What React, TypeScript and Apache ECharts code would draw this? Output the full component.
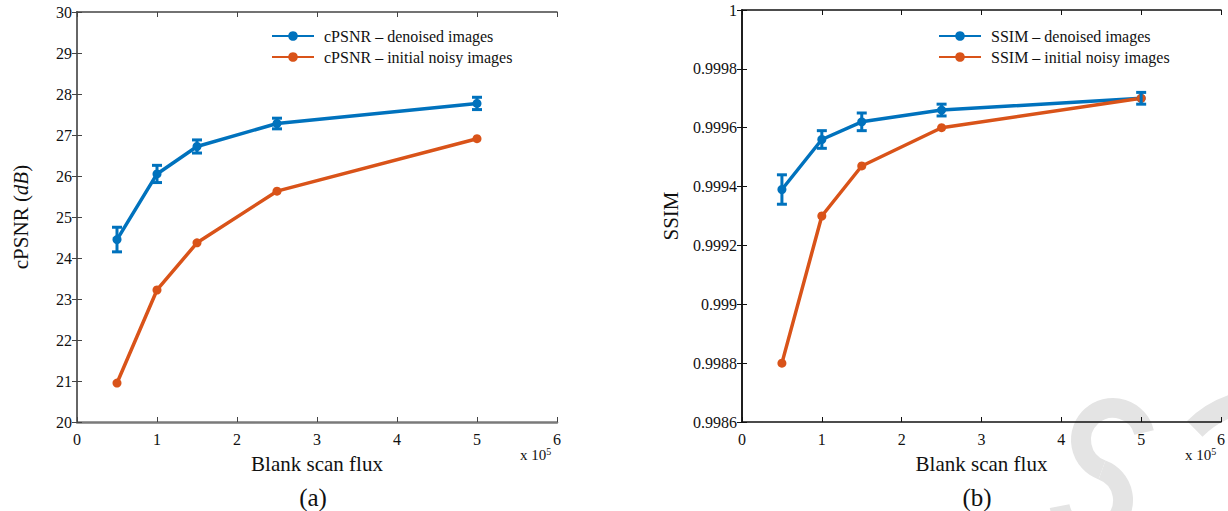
import React, { useEffect, useRef } from "react";
import * as echarts from "echarts";

// Blank scan flux (x 10^5)
const flux = [0.5, 1, 1.5, 2.5, 5];

// cPSNR in dB
const psnrDenoised = [24.45, 26.05, 26.72, 27.28, 27.77];
const psnrDenoisedErr = [0.3, 0.21, 0.16, 0.13, 0.15];
const psnrNoisy = [20.95, 23.22, 24.37, 25.63, 26.91];

// SSIM
const ssimDenoised = [0.99939, 0.99956, 0.99962, 0.99966, 0.9997];
const ssimDenoisedErr = [0.00005, 0.00003, 0.00003, 0.00002, 0.00002];
const ssimNoisy = [0.9988, 0.9993, 0.99947, 0.9996, 0.9997];

const BLUE = "#0072BD";
const ORANGE = "#D95319";
const FONT = "'Liberation Serif', 'Times New Roman', serif";
const MARK = "#e4e4e4";

const pairs = (xs: number[], ys: number[]) => xs.map((x, i) => [x, ys[i]]);
const errRows = (xs: number[], ys: number[], es: number[]) =>
  xs.map((x, i) => [x, ys[i] - es[i], ys[i] + es[i]]);

const errorBarRender = (params: any, api: any) => {
  const x = api.value(0);
  const lo = api.coord([x, api.value(1)]);
  const hi = api.coord([x, api.value(2)]);
  const half = 5;
  const style = { stroke: BLUE, lineWidth: 3 };
  return {
    type: "group",
    children: [
      { type: "line", shape: { x1: lo[0], y1: lo[1], x2: hi[0], y2: hi[1] }, style },
      { type: "line", shape: { x1: lo[0] - half, y1: lo[1], x2: lo[0] + half, y2: lo[1] }, style },
      { type: "line", shape: { x1: hi[0] - half, y1: hi[1], x2: hi[0] + half, y2: hi[1] }, style },
    ],
  };
};

function buildOption() {
  const tickLabel = { color: "#111", fontFamily: FONT, fontSize: 16 };
  const mkX = (grid: number, frame: string, bottomLine: any) => [
    {
      type: "value",
      gridIndex: grid,
      min: 0,
      max: 6,
      interval: 1,
      position: "bottom",
      axisLine: { show: true, lineStyle: bottomLine },
      axisTick: { show: true, inside: true, length: 5, lineStyle: { color: frame, width: 1 } },
      axisLabel: { ...tickLabel, margin: 9 },
      splitLine: { show: false },
      name: "Blank scan flux",
      nameLocation: "middle",
      nameGap: 31,
      nameTextStyle: { color: "#111", fontFamily: FONT, fontSize: 21 },
    },
    {
      type: "value",
      gridIndex: grid,
      min: 0,
      max: 6,
      interval: 1,
      position: "top",
      axisLine: { show: true, lineStyle: { color: frame, width: 1.5 } },
      axisTick: { show: true, inside: true, length: 5, lineStyle: { color: frame, width: 1 } },
      axisLabel: { show: false },
      splitLine: { show: false },
    },
  ];

  const xAxes = [
    ...mkX(0, "#444", { color: "#7a7a7a", width: 2.5 }),
    ...mkX(1, "#111", { color: "#111", width: 1.5 }),
  ];

  const fmtSsim = (v: number) => String(parseFloat(v.toFixed(4)));

  const yAxes = [
    {
      type: "value",
      gridIndex: 0,
      min: 20,
      max: 30,
      interval: 1,
      position: "left",
      axisLine: { show: true, lineStyle: { color: "#444", width: 1.5 } },
      axisTick: { show: true, inside: true, length: 5, lineStyle: { color: "#444" } },
      axisLabel: { ...tickLabel, margin: 5 },
      splitLine: { show: false },
      name: "cPSNR ({i|dB})",
      nameLocation: "middle",
      nameRotate: 90,
      nameGap: 46,
      nameTextStyle: {
        color: "#111",
        fontFamily: FONT,
        fontSize: 21,
        rich: { i: { fontStyle: "italic", fontFamily: FONT, fontSize: 21, color: "#111" } },
      },
    },
    {
      type: "value",
      gridIndex: 0,
      min: 20,
      max: 30,
      interval: 1,
      position: "right",
      axisLine: { show: true, lineStyle: { color: "#666", width: 2 } },
      axisTick: { show: true, inside: true, length: 5, lineStyle: { color: "#444" } },
      axisLabel: { show: false },
      splitLine: { show: false },
    },
    {
      type: "value",
      gridIndex: 1,
      min: 0.9986,
      max: 1,
      interval: 0.0002,
      position: "left",
      axisLine: { show: true, lineStyle: { color: "#111", width: 1.5 } },
      axisTick: { show: true, inside: true, length: 5, lineStyle: { color: "#111" } },
      axisLabel: { ...tickLabel, margin: 5, formatter: fmtSsim },
      splitLine: { show: false },
      name: "SSIM",
      nameLocation: "middle",
      nameRotate: 90,
      nameGap: 61,
      nameTextStyle: { color: "#111", fontFamily: FONT, fontSize: 21 },
    },
    {
      type: "value",
      gridIndex: 1,
      min: 0.9986,
      max: 1,
      interval: 0.0002,
      position: "right",
      axisLine: { show: true, lineStyle: { color: "#111", width: 1.5 } },
      axisTick: { show: true, inside: true, length: 5, lineStyle: { color: "#111" } },
      axisLabel: { show: false },
      splitLine: { show: false },
    },
  ];

  const lineSeries = (name: string, color: string, data: number[][], xi: number, yi: number) => ({
    type: "line",
    name,
    xAxisIndex: xi,
    yAxisIndex: yi,
    data,
    symbol: "circle",
    symbolSize: 9,
    showSymbol: true,
    lineStyle: { color, width: 3.5 },
    itemStyle: { color },
    z: 3,
  });

  const errSeries = (data: number[][], xi: number, yi: number) => ({
    type: "custom",
    xAxisIndex: xi,
    yAxisIndex: yi,
    data,
    renderItem: errorBarRender,
    z: 4,
  });

  const legendBase = {
    orient: "vertical",
    itemWidth: 42,
    itemHeight: 12,
    itemGap: 5,
    textStyle: { fontFamily: FONT, fontSize: 16, color: "#111", padding: [0, 0, 0, 5] },
    selectedMode: false,
  };

  const superscript = {
    fontFamily: FONT,
    fontSize: 15,
    fill: "#111",
    rich: { s: { fontSize: 10, fontFamily: FONT, verticalAlign: "top", padding: [0, 0, 8, 0], fill: "#111" } },
  };

  return {
    animation: false,
    backgroundColor: "#fff",
    grid: [
      { left: 77, top: 12, width: 480, height: 410 },
      { left: 742, top: 10, width: 480, height: 412 },
    ],
    xAxis: xAxes,
    yAxis: yAxes,
    legend: [
      {
        ...legendBase,
        left: 266,
        top: 23,
        data: ["cPSNR – denoised images", "cPSNR – initial noisy images"],
      },
      {
        ...legendBase,
        left: 933,
        top: 23,
        data: ["SSIM – denoised images", "SSIM – initial noisy images"],
      },
    ],
    series: [
      lineSeries("cPSNR – denoised images", BLUE, pairs(flux, psnrDenoised), 0, 0),
      lineSeries("cPSNR – initial noisy images", ORANGE, pairs(flux, psnrNoisy), 0, 0),
      errSeries(errRows(flux, psnrDenoised, psnrDenoisedErr), 0, 0),
      lineSeries("SSIM – denoised images", BLUE, pairs(flux, ssimDenoised), 2, 2),
      lineSeries("SSIM – initial noisy images", ORANGE, pairs(flux, ssimNoisy), 2, 2),
      errSeries(errRows(flux, ssimDenoised, ssimDenoisedErr), 2, 2),
    ],
    graphic: [
      // light watermark strokes in the lower right corner
      {
        type: "group",
        x: 1102,
        y: 470,
        rotation: -0.35,
        z: -10,
        children: [
          {
            type: "arc",
            shape: { cx: 0, cy: -32, r: 32, startAngle: 1.57, endAngle: 5.7, clockwise: true },
            style: { stroke: MARK, lineWidth: 20, fill: "none" },
          },
          {
            type: "arc",
            shape: { cx: 0, cy: 32, r: 32, startAngle: -1.57, endAngle: 2.6, clockwise: true },
            style: { stroke: MARK, lineWidth: 20, fill: "none" },
          },
        ],
      },
      {
        type: "arc",
        z: -10,
        shape: { cx: 1265, cy: 500, r: 100, startAngle: -2.35, endAngle: -1.2 },
        style: { stroke: MARK, lineWidth: 22, fill: "none" },
      },
      { type: "text", left: 520, top: 446, style: { text: "x 10{s|5}", ...superscript } },
      { type: "text", left: 1185, top: 446, style: { text: "x 10{s|5}", ...superscript } },
      {
        type: "text",
        x: 313,
        y: 497,
        style: { text: "(a)", fontFamily: FONT, fontSize: 25, fill: "#111", align: "center", verticalAlign: "middle" },
      },
      {
        type: "text",
        x: 977,
        y: 497,
        style: { text: "(b)", fontFamily: FONT, fontSize: 25, fill: "#111", align: "center", verticalAlign: "middle" },
      },
    ],
  };
}

export default function App() {
  const ref = useRef<HTMLDivElement>(null);

  useEffect(() => {
    if (!ref.current) return;
    const chart = echarts.init(ref.current, undefined, { renderer: "svg" });
    chart.setOption(buildOption() as any);
    return () => chart.dispose();
  }, []);

  return (
    <div
      ref={ref}
      style={{ position: "fixed", left: 0, top: 0, width: 1228, height: 511, background: "#fff" }}
    />
  );
}
